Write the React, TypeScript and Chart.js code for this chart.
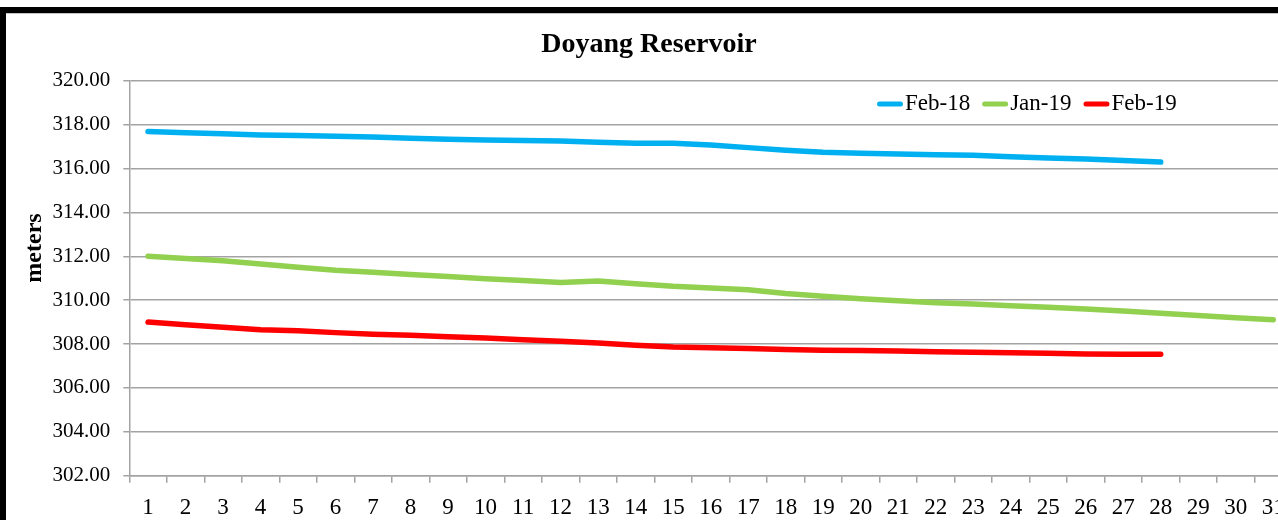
import React, { useEffect, useRef } from "react";
import { Chart, registerables } from "chart.js";

Chart.register(...registerables);

const days = [
  "1", "2", "3", "4", "5", "6", "7", "8", "9", "10", "11", "12", "13", "14", "15", "16",
  "17", "18", "19", "20", "21", "22", "23", "24", "25", "26", "27", "28", "29", "30", "31",
];

const feb18 = [
  317.68, 317.63, 317.58, 317.53, 317.5, 317.47, 317.43, 317.38, 317.33, 317.3, 317.28, 317.25,
  317.2, 317.15, 317.15, 317.07, 316.95, 316.83, 316.74, 316.69, 316.66, 316.62, 316.6, 316.54,
  316.48, 316.43, 316.36, 316.29,
];

const jan19 = [
  312.0, 311.9, 311.8, 311.65, 311.5, 311.36, 311.27, 311.17, 311.08, 310.98, 310.89, 310.8,
  310.87, 310.75, 310.63, 310.55, 310.47, 310.3, 310.18, 310.06, 309.97, 309.88, 309.82, 309.74,
  309.68, 309.6, 309.5, 309.4, 309.3, 309.2, 309.11,
];

const feb19 = [
  309.0, 308.88, 308.76, 308.65, 308.6, 308.52, 308.45, 308.4, 308.33, 308.27, 308.2, 308.13,
  308.05, 307.95, 307.87, 307.83, 307.8, 307.75, 307.72, 307.7, 307.68, 307.65, 307.62, 307.6,
  307.58, 307.55, 307.54, 307.53,
];

const seriesNames = ["Feb-18", "Jan-19", "Feb-19"];
const seriesColors = ["#00B0F0", "#92D050", "#FF0000"];
const yTickMin = 302;
const yTickMax = 320;
const yTickStep = 2;

const chartTitle = "Doyang Reservoir";
const yAxisTitle = "meters";

const GRID = "#a3a3a3";
const FONT = "'Liberation Serif', 'Times New Roman', serif";

export default function App() {
  const ref = useRef<HTMLCanvasElement>(null);

  useEffect(() => {
    const canvas = ref.current;
    if (!canvas) return;

    const customText = {
      id: "customText",
      afterDraw(chart: any) {
        const ctx = chart.ctx as CanvasRenderingContext2D;
        // y axis title
        ctx.save();
        ctx.font = `bold 24px ${FONT}`;
        ctx.fillStyle = "#000";
        ctx.textAlign = "center";
        ctx.textBaseline = "middle";
        ctx.translate(29, 235);
        ctx.rotate(-Math.PI / 2);
        ctx.fillText(yAxisTitle, 0, 0);
        ctx.restore();

        // legend inside plot area
        ctx.save();
        ctx.font = `23px ${FONT}`;
        let x = 871;
        const y = 91;
        chart.data.datasets.forEach((ds: any) => {
          ctx.strokeStyle = ds.borderColor;
          ctx.lineWidth = 5;
          ctx.lineCap = "round";
          ctx.beginPath();
          ctx.moveTo(x + 2.5, y);
          ctx.lineTo(x + 23.5, y);
          ctx.stroke();
          x += 28;
          ctx.fillStyle = "#000";
          ctx.textAlign = "left";
          ctx.textBaseline = "middle";
          ctx.fillText(ds.label, x, y);
          x += ctx.measureText(ds.label).width + 12;
        });
        ctx.restore();
      },
    };

    const mk = (label: string, data: number[], color: string) => ({
      label,
      data,
      borderColor: color,
      backgroundColor: color,
      borderWidth: 5.5,
      pointRadius: 0,
      pointHoverRadius: 0,
      tension: 0,
      borderCapStyle: "round" as const,
      borderJoinStyle: "round" as const,
      fill: false,
    });

    const chart = new Chart(canvas, {
      type: "line",
      data: {
        labels: days,
        datasets: [
          mk(seriesNames[0], feb18, seriesColors[0]),
          mk(seriesNames[1], jan19, seriesColors[1]),
          mk(seriesNames[2], feb19, seriesColors[2]),
        ],
      },
      options: {
        animation: false,
        responsive: false,
        devicePixelRatio: 1,
        events: [],
        layout: { padding: { left: 0, right: 14, top: 0, bottom: 0 } },
        plugins: {
          legend: { display: false },
          tooltip: { enabled: false },
          title: {
            display: true,
            text: chartTitle,
            color: "#000",
            font: { family: FONT, size: 28, weight: "bold", lineHeight: 1.2 },
            padding: { top: 14.7, bottom: 19.4 },
          },
        },
        scales: {
          x: {
            type: "category",
            offset: true,
            grid: {
              display: true,
              offset: true,
              drawOnChartArea: false,
              drawTicks: true,
              tickLength: 7,
              color: GRID,
              lineWidth: 1.5,
            },
            border: { display: true, color: GRID, width: 1.5 },
            ticks: {
              color: "#000",
              font: { family: FONT, size: 23 },
              padding: 11,
              maxRotation: 0,
              autoSkip: false,
            },
            afterFit: (s: any) => {
              s.height = 77.3;
            },
          },
          y: {
            min: yTickMin,
            max: yTickMax,
            grid: {
              color: GRID,
              lineWidth: 1.5,
              drawTicks: true,
              tickLength: 6,
            },
            border: { display: true, color: GRID, width: 1.5 },
            ticks: {
              stepSize: yTickStep,
              color: "#000",
              font: { family: FONT, size: 21 },
              padding: 13,
              callback: (v: any) => Number(v).toFixed(2),
            },
            afterFit: (s: any) => {
              s.width = 123.3;
            },
          },
        },
      },
      plugins: [customText],
    });

    return () => chart.destroy();
  }, []);

  return (
    <div
      style={{
        position: "fixed",
        left: 0,
        top: 0,
        width: 1278,
        height: 520,
        overflow: "hidden",
        background: "#fff",
      }}
    >
      <div
        style={{
          position: "absolute",
          left: 0,
          top: 7,
          width: 1400,
          height: 600,
          border: "6px solid #000",
          boxSizing: "content-box",
        }}
      />
      <div
        style={{
          position: "absolute",
          left: 6,
          top: 13,
          width: 1400,
          height: 1,
          background: "#c4c4c4",
        }}
      />
      <canvas
        ref={ref}
        width={1300}
        height={540}
        style={{ position: "absolute", left: 6, top: 13, display: "block" }}
      />
    </div>
  );
}
